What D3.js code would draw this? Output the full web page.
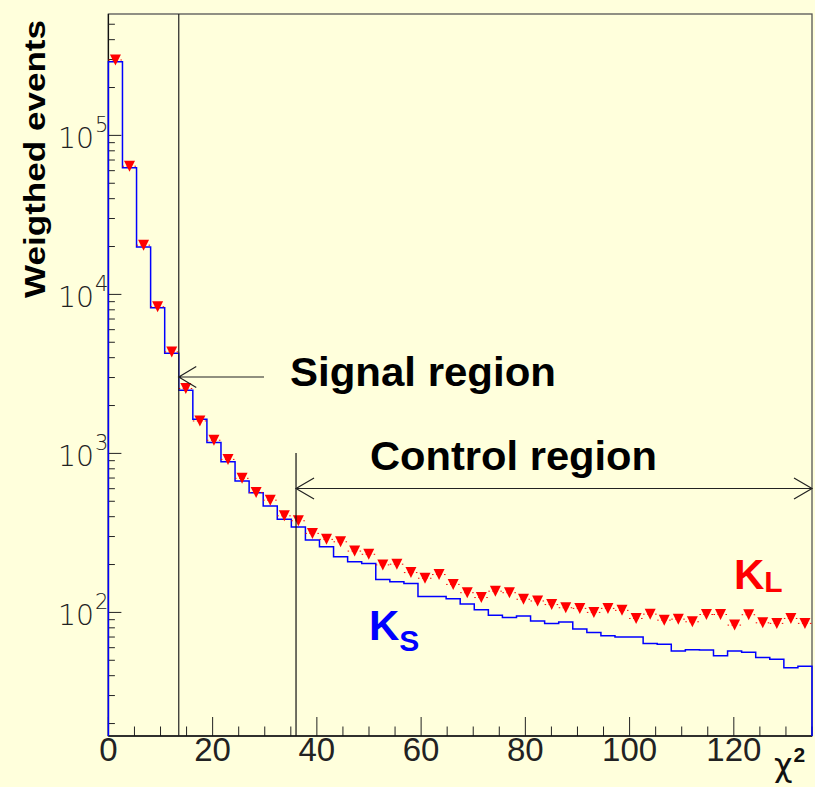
<!DOCTYPE html>
<html><head><meta charset="utf-8">
<script src="https://cdn.jsdelivr.net/npm/d3@7"></script>
<style>html,body{margin:0;padding:0;background:#ffffdc;}svg{display:block;}</style>
</head><body>
<svg id="c" width="815" height="787"></svg>
<script>
// ---- data ----
const binLow = 0, binWidth = 2.7; // 50 bins, chi2 0..135
const ksValues = [290000, 62600, 19900, 8240, 4260, 2500, 1640, 1170, 885, 670,
  565, 467, 386, 345, 285, 259, 224, 208, 203, 161,
  156, 152, 126, 126, 122, 113, 104, 95.8, 93, 94.9,
  88.2, 85.3, 86.9, 78.5, 74.8, 71.3, 70, 70, 63.8, 63,
  57.1, 58.2, 58, 53.4, 57.1, 56.2, 52.1, 50.8, 44.9, 45.9];
const klValues = [298000, 64000, 20400, 8360, 4350, 2560, 1600, 1210, 917, 697,
  568, 508, 405, 377, 314, 288, 278, 243, 232, 199,
  201, 178, 164, 173, 150, 133, 124, 136, 133, 121,
  118, 112, 107, 106, 100, 106, 103, 91.6, 97.5, 89.4,
  90.7, 87.3, 97, 97, 83.2, 96.7, 86, 85.3, 91.6, 85.3];
const xTicks = [0, 20, 40, 60, 80, 100, 120];
const yDecades = [2, 3, 4, 5];
const xDomain = [0, 135];
const yDomain = [16.7, 580000];
const signalCut = 13.5, controlCut = 36;

// ---- layout ----
const L = 108.4, R = 812, T = 14, B = 736;
const svg = d3.select("#c");
svg.append("rect").attr("width", 815).attr("height", 787).attr("fill", "#ffffdc");

const x = d3.scaleLinear().domain(xDomain).range([L, R]);
const y = d3.scaleLog().domain(yDomain).range([B, T]);

// frame
svg.append("rect").attr("x", L).attr("y", T).attr("width", R - L).attr("height", B - T)
  .attr("fill", "none").attr("stroke", "#555").attr("stroke-width", 1.3);

// x axis ticks (pointing up)
const xMinor = d3.range(0, 135.01, 5);
const gx = svg.append("g");
xMinor.forEach(v => {
  const major = v % 20 === 0;
  gx.append("line").attr("x1", x(v)).attr("x2", x(v)).attr("y1", B).attr("y2", B - (major ? 19 : 9.5))
    .attr("stroke", "#222").attr("stroke-width", 1);
});
xTicks.forEach(v => {
  gx.append("text").attr("x", x(v)).attr("y", 761).attr("text-anchor", "middle")
    .attr("font-family", "'Liberation Sans Narrow', 'Liberation Sans', sans-serif")
    .attr("font-size", 33).attr("fill", "#222").text(v);
});
// axis lines
svg.append("line").attr("x1", L).attr("x2", R).attr("y1", B).attr("y2", B).attr("stroke", "#111").attr("stroke-width", 1.3);
svg.append("line").attr("x1", L).attr("x2", L).attr("y1", T).attr("y2", B).attr("stroke", "#111").attr("stroke-width", 1.3);

// y axis ticks (pointing right)
const gy = svg.append("g");
for (let d = 1; d <= 5; d++) {
  for (let m = 1; m <= 9; m++) {
    const v = m * Math.pow(10, d);
    if (v < yDomain[0] || v > yDomain[1]) continue;
    gy.append("line").attr("x1", L).attr("x2", L + (m === 1 ? 13 : 6.5))
      .attr("y1", y(v)).attr("y2", y(v)).attr("stroke", "#222").attr("stroke-width", 1);
  }
}
yDecades.forEach(d => {
  gy.append("text").attr("x", 94).attr("y", y(Math.pow(10, d)) + 13)
    .attr("text-anchor", "end").attr("font-family", "'DejaVu Sans', sans-serif")
    .attr("font-weight", 200).attr("font-size", 29).attr("fill", "#222")
    .attr("textLength", 36).attr("lengthAdjust", "spacingAndGlyphs").text("10");
  gy.append("text").attr("x", 95).attr("y", y(Math.pow(10, d)) - 3)
    .attr("font-family", "'DejaVu Sans', sans-serif").attr("font-weight", 200)
    .attr("font-size", 21).attr("fill", "#222").text(d);
});

// K_S histogram (blue step line)
const pts = [[x(binLow), B]];
ksValues.forEach((v, i) => {
  const x0 = x(binLow + i * binWidth), x1 = x(binLow + (i + 1) * binWidth);
  pts.push([x0, y(v)], [x1, y(v)]);
});
pts.push([x(binLow + ksValues.length * binWidth), B]);
svg.append("path").attr("d", d3.line()(pts)).attr("fill", "none")
  .attr("stroke", "#0000ff").attr("stroke-width", 1.5);

// K_L markers with dotted bin-width bars
const gk = svg.append("g");
klValues.forEach((v, i) => {
  const x0 = x(binLow + i * binWidth), x1 = x(binLow + (i + 1) * binWidth);
  const cx = (x0 + x1) / 2, cy = y(v);
  gk.append("line").attr("x1", x0).attr("x2", x1).attr("y1", cy).attr("y2", cy)
    .attr("stroke", "#ff0000").attr("stroke-width", 1).attr("stroke-dasharray", "1.5,2.5");
  const r = 5.5;
  gk.append("path").attr("d", `M${cx - r},${cy - r}L${cx + r},${cy - r}L${cx},${cy + r}Z`)
    .attr("fill", "#ff0000");
});

// region lines
svg.append("line").attr("x1", x(signalCut)).attr("x2", x(signalCut)).attr("y1", T).attr("y2", B)
  .attr("stroke", "#222").attr("stroke-width", 1.2);
svg.append("line").attr("x1", x(controlCut)).attr("x2", x(controlCut)).attr("y1", 453).attr("y2", B)
  .attr("stroke", "#111").attr("stroke-width", 1.2);

// arrows
const ga = svg.append("g").attr("stroke", "#222").attr("stroke-width", 1.2).attr("fill", "none");
const sx = x(signalCut), sy = 377;
ga.append("path").attr("d", `M${sx},${sy}L264,${sy}M${sx + 17.5},${sy - 10.5}L${sx},${sy}L${sx + 17.5},${sy + 10.5}`);
const cx0 = x(controlCut), cx1 = x(135), cy = 488.5;
ga.append("path").attr("d", `M${cx0},${cy}L${cx1},${cy}M${cx0 + 18},${cy - 10.5}L${cx0},${cy}L${cx0 + 18},${cy + 10.5}M${cx1 - 18},${cy - 10.5}L${cx1},${cy}L${cx1 - 18},${cy + 10.5}`);

// labels
const bold = "'Liberation Sans', Arial, sans-serif";
svg.append("text").attr("x", 290).attr("y", 386).attr("font-family", bold).attr("font-weight", "bold")
  .attr("font-size", 41).attr("fill", "#000").attr("textLength", 266).attr("lengthAdjust", "spacingAndGlyphs").text("Signal region");
svg.append("text").attr("x", 370).attr("y", 470).attr("font-family", bold).attr("font-weight", "bold")
  .attr("font-size", 41).attr("fill", "#000").attr("textLength", 287).attr("lengthAdjust", "spacingAndGlyphs").text("Control region");

const ks = svg.append("text").attr("x", 369).attr("y", 640).attr("font-family", bold).attr("font-weight", "bold")
  .attr("font-size", 42).attr("fill", "#0000ff");
ks.append("tspan").text("K");
ks.append("tspan").attr("font-size", 30).attr("dy", 11).text("S");
const kl = svg.append("text").attr("x", 734).attr("y", 589).attr("font-family", bold).attr("font-weight", "bold")
  .attr("font-size", 42).attr("fill", "#ff0000");
kl.append("tspan").text("K");
kl.append("tspan").attr("font-size", 30).attr("dy", 3).text("L");

svg.append("text").attr("transform", "translate(45,159) rotate(-90)").attr("text-anchor", "middle")
  .attr("font-family", bold).attr("font-weight", "bold").attr("font-size", 30).attr("fill", "#000")
  .attr("textLength", 278).attr("lengthAdjust", "spacingAndGlyphs").text("Weigthed events");

const chi = svg.append("text").attr("x", 774).attr("y", 776).attr("font-family", "'DejaVu Sans', sans-serif")
  .attr("font-size", 32).attr("fill", "#111");
chi.append("tspan").text("χ");
chi.append("tspan").attr("font-family", bold).attr("font-weight", "bold").attr("font-size", 21).attr("dy", -14).attr("dx", 1).text("2");
</script>
</body></html>
